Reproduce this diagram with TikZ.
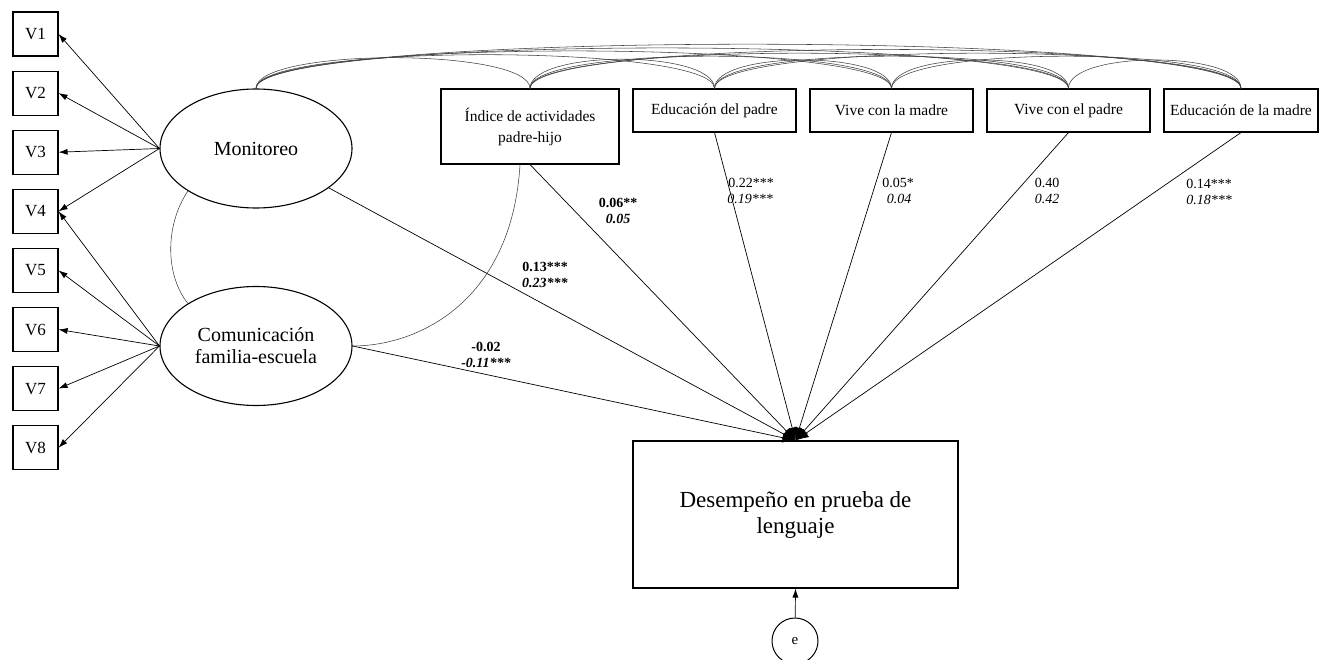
\documentclass[tikz,border=0pt]{standalone}
\usepackage{fontspec}
\setmainfont{Liberation Serif}
\usetikzlibrary{shapes.geometric,arrows.meta}
\begin{document}
\begin{tikzpicture}[x=1pt,y=-1pt,
  vbox/.style={draw,line width=1.1pt,minimum width=45pt,minimum height=44pt,inner sep=0pt,font=\fontsize{17}{19}\selectfont},
  lat/.style={draw,ellipse,line width=1.1pt,minimum width=192pt,minimum height=119pt,inner sep=0pt,font=\fontsize{20}{22}\selectfont,align=center},
  obs/.style={draw,line width=1.1pt,inner sep=0pt,font=\fontsize{15.5}{21}\selectfont,align=center},
  load/.style={-{Latex[length=9pt,width=6pt]},line width=0.7pt},
  pathline/.style={-{Latex[length=13pt,width=10pt]},line width=0.7pt},
  cov/.style={line width=0.55pt,draw=black!75},
  coef/.style={font=\fontsize{14}{16}\selectfont,inner sep=0pt}]

\useasboundingbox (0,0) rectangle (1319,660);

% indicators
\foreach \i in {1,...,8}
  \node[vbox] (V\i) at (35.5,{34+(\i-1)*59.1}) {V\i};

% latent variables
\node[lat] (mon) at (256,148.5) {Monitoreo};
\node[lat] (com) at (256,346) {Comunicación\\familia-escuela};

% observed predictors
\node[obs,minimum width=178pt,minimum height=75pt] (ind) at (530,126.5) {Índice de actividades\\padre-hijo};
\node[obs,minimum width=163pt,minimum height=43pt] (ep) at (714.5,110.5) {Educación del padre};
\node[obs,minimum width=163pt,minimum height=43pt] (vm) at (891.5,110.5) {Vive con la madre};
\node[obs,minimum width=163pt,minimum height=43pt] (vp) at (1068.5,110.5) {Vive con el padre};
\node[obs,minimum width=154pt,minimum height=43pt] (em) at (1241,110.5) {Educación de la madre};

% outcome
\node[draw,line width=1.1pt,minimum width=325pt,minimum height=147pt,inner sep=0pt,align=center,font=\fontsize{23}{26}\selectfont] (des) at (795.5,514.5) {Desempeño en prueba de\\lenguaje};
\node[draw,circle,line width=1pt,minimum size=46pt,inner sep=0pt,font=\fontsize{15}{17}\selectfont] (e) at (795,641) {e};

% loadings
\foreach \i in {1,2,3,4} \draw[load] (mon.west) -- (V\i.east);
\foreach \i in {4,...,8} \draw[load] (com.west) -- (V\i.east);

% structural paths
\draw[pathline] (mon) -- (des.north);
\draw[pathline] (com.east) -- (des.north);
\draw[pathline] (ind.south) -- (des.north);
\draw[pathline] (ep.south) -- (des.north);
\draw[pathline] (vm.south) -- (des.north);
\draw[pathline] (vp.south) -- (des.north);
\draw[pathline] (em.south) -- (des.north);
\draw[load] (e) -- (des.south);

% covariances
\draw[cov] (mon.212) .. controls (165,225) and (165,275) .. (com.148);
\draw[cov] ([xshift=-10pt]ind.south) .. controls (512,300) and (420,346) .. (com.east);
\foreach \a/\b/\h in {mon/ind/41,mon/ep/45,mon/vm/50,mon/vp/54,mon/em/59,
                      ind/ep/39,ind/vm/43,ind/vp/47,ind/em/52,
                      ep/vm/38,ep/vp/43,ep/em/47,
                      vm/vp/38,vm/em/43,vp/em/38}
  \draw[cov] (\a.north) .. controls +(0,-\h) and +(0,-\h) .. (\b.north);

% coefficients
\node[coef] (c1a) at (618,203) {\textbf{0.06**}};
\node[coef] (c1b) at (618,219) {\textbf{\textit{0.05}}};
\node[coef] (c2a) at (751,183) {0.22***};
\node[coef] (c2b) at (750,199) {\textit{0.19***}};
\node[coef] (c3a) at (898,183) {0.05*};
\node[coef] (c3b) at (899,199) {\textit{0.04}};
\node[coef] (c4a) at (1047,183) {0.40};
\node[coef] (c4b) at (1047,199) {\textit{0.42}};
\node[coef] (c5a) at (1209,184) {0.14***};
\node[coef] (c5b) at (1209,200) {\textit{0.18***}};
\node[coef] (c6a) at (545,267) {\textbf{0.13***}};
\node[coef] (c6b) at (545,283) {\textbf{\textit{0.23***}}};
\node[coef] (c7a) at (486,347) {\textbf{-0.02}};
\node[coef] (c7b) at (486,363) {\textbf{\textit{-0.11***}}};
\end{tikzpicture}
\end{document}
